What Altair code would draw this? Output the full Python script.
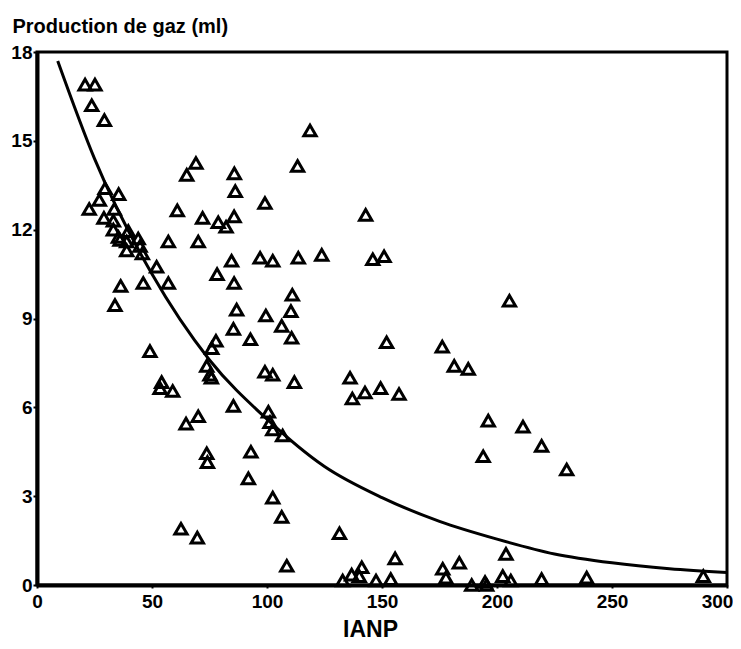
import altair as alt
import pandas as pd

# Scatter data (IANP, gas production in ml)
ianp = [20.9, 25.2, 23.8, 29.3,
        22.7, 27.1, 29.6, 35.5, 33.6, 29.1, 33.2, 33.2, 35.4, 39.7, 39.0, 44.0, 44.8, 45.8, 36.1, 39.0,
        52.0, 57.1, 46.2, 36.4, 33.9,
        65.1, 69.1, 61.0, 57.1, 72.0, 70.1, 78.8, 82.2, 85.7, 85.8, 86.2, 78.3, 84.6, 85.7, 86.8,
        99.1, 97.0, 102.5, 113.6, 123.8, 113.3, 118.7, 111.0, 110.4, 99.5, 106.4, 110.7, 85.4, 92.8,
        77.8, 76.0,
        142.9, 146.0, 150.9, 205.4,
        49.1, 73.8, 75.2, 75.8, 54.2, 53.5, 59.0, 99.1, 102.5, 111.9, 85.4, 70.1, 64.8, 100.6, 101.3,
        102.5, 106.8, 73.8, 74.1, 93.0, 91.9, 102.5, 106.4, 62.6, 69.7, 108.6, 131.5,
        152.0, 176.2, 181.4, 187.5, 136.1, 137.1, 142.6, 149.4, 157.4, 196.2, 194.0, 211.3, 219.4, 230.3,
        155.7, 183.6, 176.4, 177.8, 203.9, 141.2, 136.8, 140.1, 132.9, 147.4, 153.8, 189.0, 194.8,
        195.5, 202.5, 206.0, 219.4, 239.0, 289.7]
gaz = [16.9, 16.9, 16.2, 15.7,
       12.7, 13.0, 13.4, 13.2, 12.7, 12.4, 12.3, 12.0, 11.75, 11.95, 11.6, 11.7, 11.45, 11.2, 11.65, 11.3,
       10.75, 10.2, 10.2, 10.1, 9.45,
       13.85, 14.25, 12.65, 11.6, 12.4, 11.6, 12.25, 12.1, 12.45, 13.9, 13.3, 10.5, 10.95, 10.2, 9.3,
       12.9, 11.05, 10.95, 11.05, 11.15, 14.15, 15.35, 9.8, 9.25, 9.1, 8.75, 8.35, 8.65, 8.3,
       8.25, 8.0,
       12.5, 11.0, 11.1, 9.6,
       7.9, 7.4, 7.1, 7.0, 6.85, 6.65, 6.55, 7.2, 7.1, 6.85, 6.05, 5.7, 5.45, 5.85, 5.5,
       5.25, 5.05, 4.45, 4.15, 4.5, 3.6, 2.95, 2.3, 1.9, 1.6, 0.65, 1.75,
       8.2, 8.05, 7.4, 7.3, 7.0, 6.3, 6.5, 6.65, 6.45, 5.55, 4.35, 5.35, 4.7, 3.9,
       0.9, 0.75, 0.55, 0.25, 1.05, 0.6, 0.35, 0.3, 0.15, 0.15, 0.2, 0.0, 0.1,
       0.0, 0.3, 0.15, 0.2, 0.25, 0.3]

# Fitted curve
curve_x = [9, 25, 50, 75, 100, 125, 150, 175, 200, 225, 250, 275, 300]
curve_y = [17.7, 14.4, 10.5, 7.6, 5.6, 4.0, 2.95, 2.15, 1.55, 1.05, 0.75, 0.55, 0.42]

x_ticks = [0, 50, 100, 150, 200, 250, 300]
y_ticks = [0, 3, 6, 9, 12, 15, 18]

pts = pd.DataFrame({"IANP": ianp, "gaz": gaz})
crv = pd.DataFrame({"IANP": curve_x, "gaz": curve_y})

FONT = "Liberation Sans"

xscale = alt.Scale(domain=[0, 300], nice=False, zero=False)
yscale = alt.Scale(domain=[0, 18], nice=False)

xaxis = alt.Axis(values=x_ticks, grid=False, title="IANP",
                 labelFont=FONT, labelFontSize=19, labelFontWeight="bold", labelColor="black",
                 labelPadding=4, labelFlush=False,
                 labelOffset={"condition": {"test": "datum.value == 300", "value": -10}, "value": 0},
                 domainColor="black", domainWidth=4, tickColor="black", tickWidth=2, tickSize=3,
                 titleFont=FONT, titleFontSize=23, titleFontWeight="bold", titleColor="black",
                 titleX=333, titleY=51, titleAlign="center", titleBaseline="alphabetic")
yaxis = alt.Axis(values=y_ticks, grid=False, title="Production de gaz (ml)",
                 labelFont=FONT, labelFontSize=19, labelFontWeight="bold", labelColor="black",
                 labelPadding=1, labelFlush=False,
                 domainColor="black", domainWidth=4, tickColor="black", tickWidth=2, tickSize=4,
                 titleFont=FONT, titleFontSize=20, titleFontWeight="bold", titleColor="black",
                 titleAngle=0, titleAlign="left", titleBaseline="alphabetic",
                 titleX=-25, titleY=-20)

points = alt.Chart(pts).mark_point(
    shape="triangle-up", filled=False, color="black", strokeWidth=3, size=150, opacity=1
).encode(
    x=alt.X("IANP:Q", scale=xscale, axis=xaxis),
    y=alt.Y("gaz:Q", scale=yscale, axis=yaxis),
)

line = alt.Chart(crv).mark_line(color="black", strokeWidth=3, interpolate="monotone").encode(
    x=alt.X("IANP:Q", scale=xscale),
    y=alt.Y("gaz:Q", scale=yscale),
)

chart = alt.layer(line, points).properties(
    width=690, height=533,
    autosize=alt.AutoSizeParams(type="none"),
    padding={"left": 29, "top": 44, "right": 6, "bottom": 56},
    background="white",
).configure_view(stroke="black", strokeWidth=3)

chart.save("out.html", embed_options={"renderer": "svg", "actions": False})
